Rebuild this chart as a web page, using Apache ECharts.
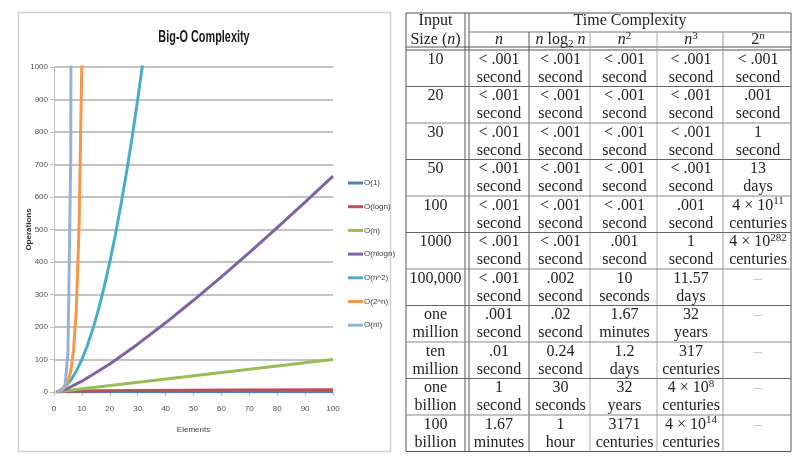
<!DOCTYPE html>
<html><head><meta charset="utf-8">
<script src="https://cdn.jsdelivr.net/npm/echarts@6/dist/echarts.min.js"></script>
<style>html,body{margin:0;padding:0;background:#fff}#c{width:800px;height:461px}</style>
</head><body><div id="c"></div>
<script>
// ---------- chart data ----------
const seriesNames = ['O(1)','O(logn)','O(n)','O(nlogn)','O(n^2)','O(2^n)','O(n!)'];
const xTicks = [0,10,20,30,40,50,60,70,80,90,100];
const o1X = [1,100];            const o1Y = [1,1];
const logX = [1,2,4,8,16,32,64,100]; const logY = [0,1,2,3,4,5,6,6.64];
const nX = [1,100];             const nY = [1,100];
const nlognX = [1,2,5,10,20,30,40,50,60,70,80,90,100];
const nlognY = [0,2,11.6,33.2,86.4,147.2,212.9,282.2,354.4,429.2,505.8,584.3,664.4];
const n2X = [1,2,4,6,8,10,12,14,16,18,20,22,24,26,28,30,32];
const n2Y = [1,4,16,36,64,100,144,196,256,324,400,484,576,676,784,900,1024];
const expX = [1,2,3,4,5,6,7,8,9,10];
const expY = [2,4,8,16,32,64,128,256,512,1024];
const factX = [1,2,3,4,5,6,7];
const factY = [1,2,6,24,120,720,5040];

// ---------- table data ----------
const sizeLabels = [['10'],['20'],['30'],['50'],['100'],['1000'],['100,000'],['one','million'],['ten','million'],['one','billion'],['100','billion']];
const colHeads = ['{i|n}','{i|n} log{sub|2} {i|n}','{i|n}{sup|2}','{i|n}{sup|3}','2{supi|n}'];
const tN     = [['< .001','second'],['< .001','second'],['< .001','second'],['< .001','second'],['< .001','second'],['< .001','second'],['< .001','second'],['.001','second'],['.01','second'],['1','second'],['1.67','minutes']];
const tNLogN = [['< .001','second'],['< .001','second'],['< .001','second'],['< .001','second'],['< .001','second'],['< .001','second'],['.002','second'],['.02','second'],['0.24','second'],['30','seconds'],['1','hour']];
const tN2    = [['< .001','second'],['< .001','second'],['< .001','second'],['< .001','second'],['< .001','second'],['.001','second'],['10','seconds'],['1.67','minutes'],['1.2','days'],['32','years'],['3171','centuries']];
const tN3    = [['< .001','second'],['< .001','second'],['< .001','second'],['< .001','second'],['.001','second'],['1','second'],['11.57','days'],['32','years'],['317','centuries'],['4 × 10{sup|8}','centuries'],['4 × 10{sup|14}','centuries']];
const t2N    = [['< .001','second'],['.001','second'],['1','second'],['13','days'],['4 × 10{sup|11}','centuries'],['4 × 10{sup|282}','centuries'],['–'],['–'],['–'],['–'],['–']];

// ---------- layout ----------
const colEdges = [406, 467, 529, 590, 657, 723, 791];
const tableTop = 13, headMid = 32, headBottom = 50, rowH = 36.5, tableBottom = 451.5;
const colors = ['#4F81BD','#C0504D','#9BBB59','#8064A2','#4BACC6','#F79646','#95B3D7'];

const SERIF = '"Liberation Serif", "DejaVu Serif", serif';
const FS = 16;
const RICH = {
  i:   {fontFamily: SERIF, fontSize: FS, fontStyle: 'italic', lineHeight: 19},
  sup: {fontFamily: SERIF, fontSize: 11, lineHeight: 11, verticalAlign: 'top'},
  supi:{fontFamily: SERIF, fontSize: 11, fontStyle: 'italic', lineHeight: 11, verticalAlign: 'top'},
  sub: {fontFamily: SERIF, fontSize: 11, lineHeight: 11, verticalAlign: 'bottom'}
};
function txt(x, y, s, fill) {
  return {type: 'text', x: x, y: y, silent: true, style: {
    text: s, fill: fill || '#222', fontFamily: SERIF, fontSize: FS, lineHeight: 19,
    align: 'center', verticalAlign: 'middle', rich: RICH}};
}
function line(x1, y1, x2, y2, c, w) {
  return {type: 'line', silent: true, shape: {x1: x1, y1: y1, x2: x2, y2: y2},
    style: {stroke: c || '#555', lineWidth: w || 1}};
}

const g = [];
// chart frame
g.push({type: 'rect', silent: true, shape: {x: 18.5, y: 12.5, width: 372, height: 439},
  style: {fill: 'none', stroke: '#d0d0d0', lineWidth: 1.5}});
g.push({type: 'text', silent: true, x: 204, y: 37, scaleX: 0.64, originX: 0, originY: 0,
  style: {text: 'Big-O Complexity', font: 'bold 17px "Liberation Sans", Arial, sans-serif',
    fill: '#1a1a1a', align: 'center', verticalAlign: 'middle'}});

// table lines
g.push(line(colEdges[0], tableTop, colEdges[6], tableTop, '#555'));
g.push(line(colEdges[0], tableBottom, colEdges[6], tableBottom, '#555'));
g.push(line(colEdges[0], tableTop, colEdges[0], tableBottom, '#555'));
g.push(line(colEdges[6], tableTop, colEdges[6], tableBottom, '#555'));
g.push(line(colEdges[1] - 2, tableTop, colEdges[1] - 2, tableBottom, '#555'));
g.push(line(colEdges[1] + 2, tableTop, colEdges[1] + 2, tableBottom, '#555'));
g.push(line(colEdges[1] + 2, headMid, colEdges[6], headMid, '#777'));
g.push(line(colEdges[0], headBottom - 3, colEdges[6], headBottom - 3, '#555'));
g.push(line(colEdges[0], headBottom, colEdges[6], headBottom, '#555'));
const innerCol = ['#555', '#aaa', '#aaa', '#999'];
for (let k = 2; k <= 5; k++) g.push(line(colEdges[k], headMid, colEdges[k], tableBottom, innerCol[k - 2]));
for (let r = 1; r < sizeLabels.length; r++) {
  const y = headBottom + r * rowH;
  g.push(line(colEdges[0], y, colEdges[6], y, r % 2 ? '#666' : '#888'));
}
// header texts
const cx = k => (colEdges[k] + colEdges[k + 1]) / 2 + (k === 0 ? -1 : 1);
g.push(txt(cx(0), 21, 'Input'));
g.push(txt(cx(0), 39.5, 'Size ({i|n})'));
g.push(txt(630, 21, 'Time Complexity'));
colHeads.forEach((h, k) => g.push(txt(cx(k + 1), 40, h)));
// body texts
const cols = [sizeLabels, tN, tNLogN, tN2, tN3, t2N];
cols.forEach((col, k) => {
  col.forEach((cell, r) => {
    const top = headBottom + r * rowH;
    const isDash = cell[0] === '–';
    g.push(txt(cx(k), top + 9.5, cell[0], isDash ? '#bdbdbd' : null));
    if (cell[1]) g.push(txt(cx(k), top + 27.5, cell[1]));
  });
});

function pairs(xs, ys) { return xs.map((x, i) => [x, ys[i]]); }
const dataSets = [pairs(o1X, o1Y), pairs(logX, logY), pairs(nX, nY), pairs(nlognX, nlognY),
  pairs(n2X, n2Y), pairs(expX, expY), pairs(factX, factY)];

const SANS = '"Liberation Sans", Arial, sans-serif';
const chart = echarts.init(document.getElementById('c'), null, {renderer: 'canvas'});
chart.setOption({
  animation: false,
  backgroundColor: '#fff',
  grid: {left: 54, top: 67, width: 279, height: 325, containLabel: false},
  legend: {
    orient: 'vertical', left: 343, top: 173, itemGap: 13.7, itemWidth: 15, itemHeight: 3,
    icon: 'rect', data: seriesNames,
    textStyle: {fontFamily: SANS, fontSize: 8, lineHeight: 10, color: '#404040', padding: [0, 0, 0, -4]}
  },
  xAxis: {
    type: 'value', min: 0, max: 100, interval: 10,
    name: 'Elements', nameLocation: 'middle', nameGap: 34, nameMoveOverlap: false,
    nameTextStyle: {fontFamily: SANS, fontSize: 8, color: '#404040'},
    axisLine: {show: true, lineStyle: {color: '#bfbfbf', width: 1}},
    axisTick: {show: true, length: 4, lineStyle: {color: '#bfbfbf'}},
    axisLabel: {fontFamily: SANS, fontSize: 8, color: '#505050', margin: 13,
      formatter: v => xTicks.indexOf(v) >= 0 ? String(v) : ''},
    splitLine: {show: false}
  },
  yAxis: {
    type: 'value', min: 0, max: 1000, interval: 100,
    name: 'Operations', nameLocation: 'middle', nameGap: 21, nameRotate: 90, nameMoveOverlap: false,
    nameTextStyle: {fontFamily: SANS, fontSize: 8, fontWeight: 'bold', color: '#303030'},
    axisLine: {show: true, lineStyle: {color: '#bfbfbf', width: 1}},
    axisTick: {show: true, length: 4, lineStyle: {color: '#bfbfbf'}},
    axisLabel: {fontFamily: SANS, fontSize: 8, color: '#505050', margin: 6,
      formatter: v => String(v)},
    splitLine: {show: true, lineStyle: {color: '#c2c2c2', width: 2}}
  },
  series: seriesNames.map((name, i) => ({
    name: name, type: 'line', data: dataSets[i], showSymbol: false, symbol: 'none',
    lineStyle: {color: colors[i], width: 3}, itemStyle: {color: colors[i]},
    clip: true, z: 2 + i
  })),
  graphic: {elements: g}
});
</script></body></html>
